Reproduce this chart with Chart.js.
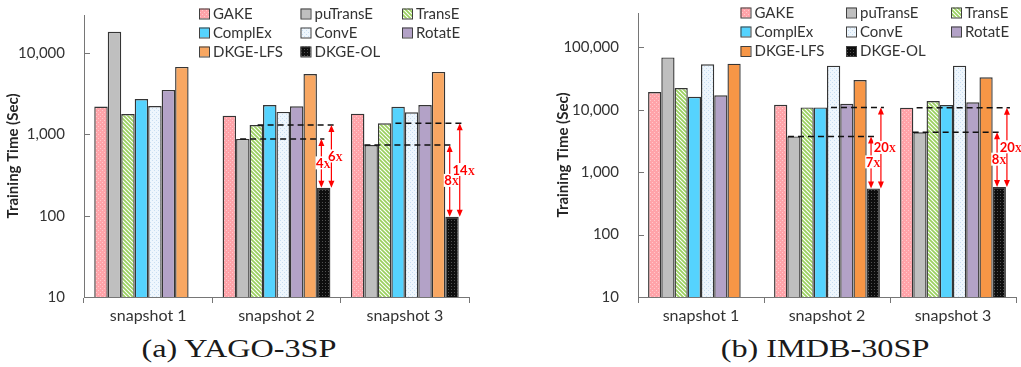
<!DOCTYPE html>
<html>
<head>
<meta charset="utf-8">
<script src="https://cdn.jsdelivr.net/npm/chart.js@4.4.1/dist/chart.umd.min.js"></script>
<style>
  html, body { margin: 0; padding: 0; background: #fff; }
  #wrap { position: relative; width: 1021px; height: 367px; overflow: hidden; }
  #yago { position: absolute; left: 0; top: 0; }
  #imdb { position: absolute; left: 510px; top: 0; }
  .cap {
    position: absolute; top: 333px; width: 300px; text-align: center;
    font-family: 'Liberation Serif', serif; font-size: 26px; line-height: 32px; color: #1a1a1a;
    transform: scaleX(1.24); transform-origin: center;
  }
</style>
</head>
<body>
<div id="wrap">
  <canvas id="yago" width="510" height="330"></canvas>
  <canvas id="imdb" width="511" height="330"></canvas>
  <div class="cap" style="left:89px">(a) YAGO-3SP</div>
  <div class="cap" style="left:675px">(b) IMDB-30SP</div>
</div>
<script>
// ---- categories and series ----
const categories = ['snapshot 1', 'snapshot 2', 'snapshot 3'];
const seriesNames = ['GAKE', 'puTransE', 'TransE', 'ComplEx', 'ConvE', 'RotatE', 'DKGE-LFS', 'DKGE-OL'];

// YAGO-3SP training time (seconds)
const yagoGAKE     = [2200, 1700, 1800];
const yagoPuTransE = [18300, 880, 740];
const yagoTransE   = [1780, 1300, 1370];
const yagoComplEx  = [2720, 2300, 2180];
const yagoConvE    = [2230, 1890, 1870];
const yagoRotatE   = [3520, 2220, 2300];
const yagoLFS      = [6750, 5530, 5860];
const yagoOL       = [null, 220, 97];

// IMDB-30SP training time (seconds)
const imdbGAKE     = [19300, 12000, 10800];
const imdbPuTransE = [69000, 3750, 4350];
const imdbTransE   = [22300, 10900, 13800];
const imdbComplEx  = [16200, 10900, 11900];
const imdbConvE    = [53600, 51000, 51000];
const imdbRotatE   = [17100, 12500, 13200];
const imdbLFS      = [54800, 30000, 33200];
const imdbOL       = [null, 550, 580];

// y-axis tick values
const yagoTicks = [10, 100, 1000, 10000];
const imdbTicks = [10, 100, 1000, 10000, 100000];

// speed-up callouts: DKGE-OL against a baseline bar
const yagoGaps = [
  { cat: 1, ref: 'puTransE', label: '4',  inner: true },
  { cat: 1, ref: 'TransE',   label: '6',  inner: false },
  { cat: 2, ref: 'puTransE', label: '8',  inner: true },
  { cat: 2, ref: 'TransE',   label: '14', inner: false }
];
const imdbGaps = [
  { cat: 1, ref: 'puTransE', label: '7',  inner: true },
  { cat: 1, ref: 'TransE',   label: '20', inner: false },
  { cat: 2, ref: 'puTransE', label: '8',  inner: true },
  { cat: 2, ref: 'GAKE',     label: '20', inner: false }
];
// where each dashed guide starts, in bar slots from the group's left edge
const yagoDashStart = [1.3, 2.6, 1.0, 3.3];
const imdbDashStart = [1.05, 4.3, 0.95, 1.25];

// ---- fills ----
const scratch = document.createElement('canvas').getContext('2d');
function tile(size, bg, paint) {
  const c = document.createElement('canvas');
  c.width = c.height = size;
  const g = c.getContext('2d');
  g.fillStyle = bg; g.fillRect(0, 0, size, size);
  if (paint) paint(g, size);
  return scratch.createPattern(c, 'repeat');
}
function dots(color) {
  return (g) => { g.fillStyle = color; g.fillRect(0, 0, 1, 1); g.fillRect(2, 2, 1, 1); };
}
function hatch(color, w) {
  return (g, s) => {
    g.strokeStyle = color; g.lineWidth = w;
    g.beginPath();
    g.moveTo(-1, -1); g.lineTo(s + 1, s + 1);
    g.moveTo(s - 1, -1); g.lineTo(s + 1, 1);
    g.moveTo(-1, s - 1); g.lineTo(1, s + 1);
    g.stroke();
  };
}
function makeFills(lfsColor) {
  return [
    tile(4, '#FFA3A9', dots('#FFC9CC')),
    '#BFBFBF',
    tile(4, '#FFFFFF', hatch('#9ACF5E', 1.7)),
    '#55D3FE',
    tile(4, '#EEF6FD', dots('#C8DEF2')),
    '#B3A2C7',
    lfsColor,
    tile(3, '#0E0E0E', (g) => { g.fillStyle = '#505050'; g.fillRect(1, 1, 1, 1); })
  ];
}

const AXIS = '#767676';
const TEXT = '#333333';
const FONT = 'Lato, "Open Sans", sans-serif';

// legend drawn as a fixed 3-column grid inside the plot
function legendPlugin(colX, rowY) {
  return {
    id: 'gridLegend',
    afterDraw(chart) {
      const ctx = chart.ctx;
      ctx.save();
      ctx.font = '15px ' + FONT;
      ctx.textBaseline = 'middle';
      chart.data.datasets.forEach((ds, i) => {
        const x = colX[i % 3], y = rowY[Math.floor(i / 3)];
        ctx.fillStyle = ds.backgroundColor;
        ctx.fillRect(x, y - 5, 10, 10);
        ctx.strokeStyle = '#404040'; ctx.lineWidth = 1;
        ctx.strokeRect(x + 0.5, y - 4.5, 10, 10);
        ctx.fillStyle = TEXT;
        ctx.fillText(ds.label, x + 14, y + 0.5);
      });
      ctx.restore();
    }
  };
}

// inward tick marks on the value axis
const innerTicks = {
  id: 'innerTicks',
  afterDraw(chart) {
    const ctx = chart.ctx, ys = chart.scales.y, left = chart.chartArea.left;
    ctx.save();
    ctx.strokeStyle = AXIS; ctx.lineWidth = 1;
    ys.ticks.forEach(t => {
      const py = Math.round(ys.getPixelForValue(t.value)) + 0.5;
      ctx.beginPath(); ctx.moveTo(left, py); ctx.lineTo(left + 6, py); ctx.stroke();
    });
    ctx.restore();
  }
};

// dashed guides and red double arrows with speed-up labels
function gapPlugin(gaps, dashStart) {
  return {
    id: 'gaps',
    afterDatasetsDraw(chart) {
      const ctx = chart.ctx, ys = chart.scales.y;
      const olIdx = seriesNames.indexOf('DKGE-OL');
      ctx.save();
      gaps.forEach((gp, k) => {
        const ol = chart.getDatasetMeta(olIdx).data[gp.cat];
        const first = chart.getDatasetMeta(0).data[gp.cat];
        const w = ol.width;
        const refIdx = seriesNames.indexOf(gp.ref);
        const refY = ys.getPixelForValue(chart.data.datasets[refIdx].data[gp.cat]);
        const botY = ol.y;
        const ax = gp.inner ? ol.x - w / 2 + 0.33 * w : ol.x + w / 2 + 1;
        const x0 = first.x - first.width / 2 + dashStart[k] * w;

        // dashed guide
        ctx.setLineDash([6, 4]);
        ctx.strokeStyle = '#111'; ctx.lineWidth = 1.5;
        ctx.beginPath(); ctx.moveTo(x0, refY); ctx.lineTo(ax + 3, refY); ctx.stroke();
        ctx.setLineDash([]);

        // double arrow
        ctx.strokeStyle = '#FF0000'; ctx.fillStyle = '#FF0000'; ctx.lineWidth = 1.2;
        ctx.beginPath(); ctx.moveTo(ax, refY + 5); ctx.lineTo(ax, botY - 5); ctx.stroke();
        ctx.beginPath(); ctx.moveTo(ax, refY); ctx.lineTo(ax - 3, refY + 7); ctx.lineTo(ax + 3, refY + 7); ctx.closePath(); ctx.fill();
        ctx.beginPath(); ctx.moveTo(ax, botY); ctx.lineTo(ax - 3, botY - 7); ctx.lineTo(ax + 3, botY - 7); ctx.closePath(); ctx.fill();

        // label: number plus small-cap x
        const numFont = 'bold 13px ' + FONT;
        const xFont = 'bold 10px "Liberation Serif", serif';
        ctx.font = numFont; const nw = ctx.measureText(gp.label).width;
        ctx.font = xFont; const xw = ctx.measureText('X').width;
        const tw = nw + xw;
        const cx = ax + (gp.inner ? 2 : 4);
        const cy = (refY + botY) / 2;
        const lx = cx - tw / 2;
        ctx.fillStyle = '#FFFFFF';
        ctx.fillRect(lx - 0.5, cy - 7, tw + 1, 13);
        ctx.fillStyle = '#FF0000';
        ctx.textBaseline = 'alphabetic';
        ctx.font = numFont; ctx.fillText(gp.label, lx, cy + 4.5);
        ctx.font = xFont; ctx.fillText('X', lx + nw, cy + 4.5);
      });
      ctx.restore();
    }
  };
}

function buildChart(canvasId, seriesValues, lfsColor, opts) {
  const fills = makeFills(lfsColor);
  const datasets = seriesNames.map((name, i) => ({
    label: name,
    data: seriesValues[i],
    backgroundColor: fills[i],
    borderColor: '#353535',
    borderWidth: 1.4,
    categoryPercentage: 0.84,
    barPercentage: 1.0
  }));
  return new Chart(document.getElementById(canvasId), {
    type: 'bar',
    data: { labels: categories, datasets },
    options: {
      responsive: false,
      animation: false,
      events: [],
      layout: { padding: { top: opts.top, right: opts.right, left: 0, bottom: 0 } },
      plugins: { legend: { display: false }, tooltip: { enabled: false } },
      scales: {
        x: {
          grid: { display: true, drawOnChartArea: false, drawTicks: true, tickLength: 6, color: AXIS, offset: true },
          border: { display: true, color: AXIS, width: 1 },
          ticks: { color: TEXT, font: { family: FONT, size: 16 }, padding: 3, maxRotation: 0 },
          afterFit: (s) => { s.height = 33; s.paddingLeft = 0; s.paddingRight = 0; }
        },
        y: {
          type: 'logarithmic',
          min: 10,
          max: opts.max,
          grid: { display: false, drawTicks: false },
          border: { display: true, color: AXIS, width: 1 },
          ticks: {
            color: TEXT, font: { family: FONT, size: 15 }, padding: 19,
            callback: (v) => Number(v).toLocaleString('en-US')
          },
          afterBuildTicks: (s) => { s.ticks = opts.ticks.map(v => ({ value: v })); },
          afterFit: (s) => { s.width = opts.axisWidth; s.paddingTop = 0; s.paddingBottom = 0; },
          title: {
            display: true, text: 'Training Time (Sec)', color: '#262626',
            font: { family: FONT, size: 15, weight: 'bold' },
            padding: { top: opts.titlePad, bottom: 0 }
          }
        }
      }
    },
    plugins: [innerTicks, gapPlugin(opts.gaps, opts.dashStart), legendPlugin(opts.legendX, opts.legendY)]
  });
}

buildChart('yago',
  [yagoGAKE, yagoPuTransE, yagoTransE, yagoComplEx, yagoConvE, yagoRotatE, yagoLFS, yagoOL],
  '#F8A762',
  { top: 15, right: 41, max: 29400, ticks: yagoTicks, axisWidth: 84, titlePad: 4,
    gaps: yagoGaps, dashStart: yagoDashStart,
    legendX: [199, 300.5, 402], legendY: [13.5, 32.5, 51.5] });

buildChart('imdb',
  [imdbGAKE, imdbPuTransE, imdbTransE, imdbComplEx, imdbConvE, imdbRotatE, imdbLFS, imdbOL],
  '#F79646',
  { top: 13, right: 5, max: 356000, ticks: imdbTicks, axisWidth: 128, titlePad: 44,
    gaps: imdbGaps, dashStart: imdbDashStart,
    legendX: [230.5, 336, 441], legendY: [12.5, 31.5, 51] });
</script>
</body>
</html>
